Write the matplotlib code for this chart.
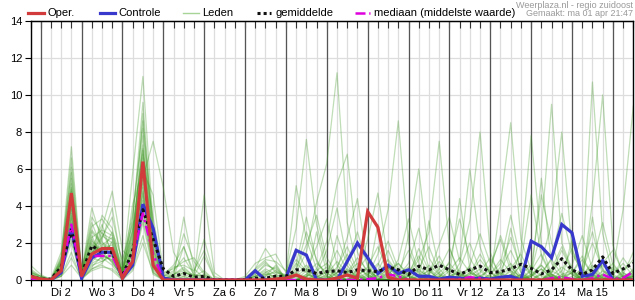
import numpy as np
import matplotlib
matplotlib.use('Agg')
import matplotlib.pyplot as plt

plt.rcParams['font.family'] = ['Liberation Sans', 'DejaVu Sans']

# 6-hourly steps, first step = ma 1 apr 18:00
day_labels = ['Di 2', 'Wo 3', 'Do 4', 'Vr 5', 'Za 6', 'Zo 7', 'Ma 8',
              'Di 9', 'Wo 10', 'Do 11', 'Vr 12', 'Za 13', 'Zo 14', 'Ma 15']

oper = [0.2, 0.05, 0, 0.5, 4.7, 0.2, 1.4, 1.7, 1.7, 0.1, 1.0, 6.4, 0.8, 0,
        0, 0, 0, 0, 0, 0, 0, 0, 0, 0, 0.05, 0.1, 0.27, 0.05, 0, 0,
        0.1, 0.27, 0.1, 3.7, 2.85, 0.15, 0, 0, 0, 0, 0, 0, 0, 0, 0,
        0, 0, 0, 0, 0, 0, 0, 0, 0, 0, 0, 0, 0, 0, 0]

controle = [0.15, 0, 0, 0.4, 2.8, 0.1, 1.2, 1.5, 1.5, 0.1, 0.8, 4.1, 2.8, 0.1,
            0, 0, 0, 0, 0, 0, 0, 0, 0.5, 0, 0, 0.1, 1.6, 1.35, 0, 0,
            0, 1.0, 2.0, 1.2, 0.35, 0.8, 0.35, 0.55, 0.2, 0.2, 0.05, 0.15, 0.1, 0.05, 0.1,
            0.05, 0.15, 0.2, 0, 2.1, 1.8, 1.2, 3.0, 2.55, 0.2, 0.3, 1.05, 0, 0, 0]

gemiddelde = [0.2, 0.05, 0.05, 0.7, 2.7, 0.3, 1.85, 1.5, 1.5, 0.2, 1.6, 3.8, 2.2, 0.6,
              0.2, 0.35, 0.15, 0.2, 0, 0, 0, 0, 0.1, 0.1, 0.2, 0.2, 0.55, 0.55, 0.35, 0.45,
              0.5, 0.4, 0.55, 0.5, 0.45, 0.7, 0.55, 0.3, 0.75, 0.55, 0.8, 0.55, 0.3, 0.55, 0.75,
              0.4, 0.45, 0.6, 0.85, 0.63, 0.33, 0.55, 1.15, 0.55, 0.3, 0.55, 1.25, 0.35, 0.6, 0.9]

mediaan = [0.1, 0, 0, 0.5, 3.0, 0.2, 1.3, 1.3, 1.3, 0.2, 1.2, 3.6, 1.4, 0,
           0, 0, 0, 0, 0, 0, 0, 0, 0, 0, 0, 0, 0, 0, 0, 0,
           0, 0, 0, 0.05, 0.1, 0.3, 0.2, 0, 0, 0, 0, 0, 0.05, 0.15, 0.1,
           0, 0, 0, 0, 0, 0, 0.1, 0.15, 0.05, 0, 0.1, 0.3, 0.05, 0.1, 0.45]

# ensemble members (Leden): steps 0-13
leden_begin = [
    [0.2, 0.1, 0, 0.6, 4.2, 0.2, 1.5, 1.8, 1.6, 0.1, 1.2, 6.0, 1.0, 0.1],
    [0.5, 0.2, 0, 1.0, 5.5, 0.3, 2.2, 1.3, 1.1, 0.3, 2.5, 7.3, 1.8, 0.0],
    [0.1, 0, 0, 0.4, 3.1, 0.1, 1.1, 2.4, 2.0, 0.2, 0.9, 4.5, 0.8, 0.0],
    [0.8, 0.3, 0, 1.3, 7.2, 0.5, 2.9, 3.3, 2.5, 0.5, 3.2, 9.6, 2.4, 0.2],
    [0, 0, 0, 0.3, 2.5, 0.1, 0.8, 1.0, 1.4, 0.1, 1.8, 5.2, 0.6, 0.0],
    [0.3, 0.1, 0, 0.9, 4.8, 0.4, 3.9, 2.1, 1.2, 0.6, 2.0, 6.6, 1.5, 0.1],
    [0.1, 0, 0, 0.5, 3.6, 0.2, 1.4, 2.8, 4.8, 1.6, 1.1, 4.0, 0.4, 0.0],
    [0.4, 0.1, 0, 0.7, 6.1, 0.6, 1.9, 1.6, 0.9, 0.2, 5.8, 11.0, 3.0, 0.3],
    [0, 0, 0, 0.2, 1.5, 0, 0.6, 0.9, 1.7, 0.3, 0.7, 3.1, 0.5, 0.0],
    [0.2, 0.1, 0, 1.1, 4.4, 0.3, 2.6, 1.9, 2.3, 0.4, 2.8, 7.0, 2.1, 0.1],
    [0.6, 0.2, 0.1, 1.5, 5.8, 0.2, 1.2, 3.5, 2.8, 0.2, 1.5, 5.5, 7.5, 5.0],
    [0.1, 0, 0, 0.3, 2.9, 0.1, 2.0, 1.4, 1.0, 0.1, 0.8, 3.6, 1.1, 0.0],
    [0.3, 0.1, 0, 0.8, 3.9, 0.2, 1.6, 2.3, 3.4, 0.9, 3.6, 8.2, 2.7, 0.2],
    [0, 0, 0, 0.6, 2.2, 0.1, 0.9, 1.2, 0.8, 0, 1.3, 4.8, 0.9, 0.0],
    [0.2, 0, 0, 0.4, 4.6, 0.4, 3.1, 1.7, 1.9, 0.5, 2.2, 6.3, 1.4, 0.1],
    [0.1, 0.1, 0, 0.9, 3.3, 0.2, 1.3, 2.6, 1.5, 0.2, 4.1, 5.9, 4.6, 0.4],
    [0.4, 0.2, 0, 1.2, 5.2, 0.3, 2.4, 1.1, 2.1, 0.3, 1.7, 9.0, 1.9, 0.1],
    [0, 0, 0, 0.2, 0.8, 0.1, 0.5, 0.7, 0.6, 0.1, 0.6, 2.4, 0.3, 0.0],
    [0.2, 0.1, 0, 0.7, 3.8, 0.2, 1.7, 3.0, 1.3, 0.4, 2.4, 6.8, 3.4, 0.2],
    [0.1, 0, 0, 0.5, 2.7, 0.1, 1.0, 1.5, 2.6, 1.1, 3.0, 4.3, 1.2, 0.0],
    [0.3, 0.1, 0, 0.6, 4.0, 0.5, 2.7, 2.0, 1.7, 0.2, 1.9, 7.8, 2.2, 0.1],
    [0.5, 0.1, 0, 1.0, 6.6, 0.3, 1.8, 1.4, 1.0, 0.1, 1.0, 5.0, 0.7, 0.0],
    [0, 0, 0, 0.3, 3.4, 0.1, 1.1, 2.2, 3.9, 0.6, 2.6, 5.7, 1.6, 0.1],
    [0.2, 0, 0, 0.8, 4.9, 0.2, 2.1, 1.6, 1.4, 0.3, 1.4, 6.1, 1.3, 0.0],
    [0.1, 0, 0, 0.4, 2.0, 0.1, 0.7, 1.3, 1.1, 0.1, 0.9, 3.3, 0.8, 0.0],
    [0.3, 0.1, 0, 0.9, 5.0, 0.4, 3.4, 2.5, 2.2, 0.4, 3.4, 8.6, 2.9, 0.2],
    [0.2, 0.1, 0, 0.5, 3.0, 0.2, 1.5, 1.9, 1.6, 0.2, 2.1, 4.7, 1.0, 0.0],
    [0.4, 0.2, 0, 1.1, 4.5, 0.3, 2.3, 2.7, 2.4, 0.7, 2.7, 7.1, 1.7, 0.1],
    [0.1, 0, 0, 0.6, 3.5, 0.2, 1.2, 1.0, 1.3, 0.2, 1.6, 5.4, 2.5, 0.1],
    [0, 0, 0, 0.2, 1.2, 0.1, 0.6, 0.8, 0.5, 0, 0.5, 2.0, 0.4, 0.0],
]

# steps 14-24
leden_midden = [
    [0, 0.2, 0, 0, 0, 0, 0, 0, 0, 0.1, 0],
    [0.3, 0.5, 0.1, 0, 0, 0, 0, 0, 0.2, 0.4, 0.1],
    [0, 0, 0, 0.2, 0, 0, 0, 0, 0, 0, 0.3],
    [0.5, 1.2, 0.3, 0.1, 0, 0, 0, 0.1, 0.5, 1.0, 0.4],
    [0, 0, 0, 0, 0, 0, 0, 0, 0, 0, 0],
    [0.2, 3.4, 0.6, 0.1, 0, 0, 0, 0, 0.3, 0.8, 0.6],
    [0, 0.1, 0, 0, 0, 0, 0, 0, 0, 0, 0.1],
    [0.8, 1.8, 0.4, 2.2, 0.2, 0, 0, 0, 0.6, 1.7, 0.9],
    [0, 0, 0, 0, 0, 0, 0, 0, 0, 0, 0],
    [0.1, 0.4, 0.2, 0.5, 0, 0, 0, 0, 0.1, 0.3, 0.2],
    [1.5, 0.5, 0.1, 0, 0, 0, 0, 0, 0, 0.2, 0.5],
    [0, 0, 0, 0, 0, 0, 0, 0, 0, 0, 0],
    [0.4, 2.5, 1.0, 0.3, 0, 0, 0, 0.2, 0.9, 1.2, 1.4],
    [0, 0, 0, 0, 0, 0, 0, 0, 0, 0, 0],
    [0.1, 0.3, 0.1, 4.6, 0.4, 0, 0, 0, 0.2, 0.6, 0.3],
    [0.6, 1.0, 1.2, 0.4, 0, 0, 0, 0, 0.4, 0.2, 0.8],
    [0, 0.1, 0, 0, 0, 0, 0, 0, 0, 0, 0],
    [0, 0, 0, 0, 0, 0, 0, 0, 0, 0, 0],
    [0.3, 0.7, 0.2, 1.3, 0.1, 0, 0, 0, 0.3, 0.9, 0.5],
    [0, 0, 0, 0, 0, 0, 0, 0, 0, 0, 0.2],
    [0.2, 0.4, 0.3, 0.2, 0, 0, 0, 0, 0, 0.4, 0.7],
    [0, 0, 0, 0, 0, 0, 0, 0, 0, 0, 0],
    [0.1, 1.8, 0.2, 0, 0, 0, 0, 0, 0.2, 0.5, 0.1],
    [0, 0, 0, 0, 0, 0, 0, 0, 0, 0.1, 0],
    [0, 0, 0, 0, 0, 0, 0, 0, 0, 0, 0],
    [0.7, 0.8, 0.5, 1.6, 0.1, 0, 0, 0.1, 0.6, 1.1, 1.0],
    [0, 0.2, 0, 0, 0, 0, 0, 0, 0, 0, 0],
    [0.3, 0.6, 0.2, 0.3, 0, 0, 0, 0, 0.2, 0.3, 0.4],
    [0.1, 0, 0, 0, 0, 0, 0, 0, 0, 0, 0],
    [0, 0, 0, 0, 0, 0, 0, 0, 0, 0, 0],
]

# steps 25-59 (ma 8 00:00 .. di 16 12:00)
leden_eind = [
    [0, 0.3, 0.8, 0.2, 0, 0, 0.4, 1.2, 0.5, 0, 0, 0.2, 0, 0.6, 1.8, 0.4, 0, 0.9, 3.2, 8.0, 1.5, 0, 0, 0.3, 0.8, 0.2, 0, 0, 0.4, 1.1, 0.3, 0, 0, 0.2, 0.5],
    [0.1, 0.6, 1.9, 3.5, 1.2, 0.3, 0, 0, 0.2, 1.4, 3.8, 8.6, 2.0, 0.4, 0, 0, 0.2, 0.5, 0.1, 0, 0, 0.3, 0.9, 0.2, 0, 0, 0.6, 1.8, 0.5, 0, 0, 0.2, 0.7, 0.1, 0],
    [0, 0, 0.2, 0.5, 0.9, 0.3, 0, 0, 0, 0, 0.4, 0.1, 0, 0, 0.3, 1.0, 0.4, 0, 0, 0.2, 0.6, 2.4, 0.8, 0, 0, 0.3, 1.2, 3.6, 1.4, 0.5, 10.7, 2.5, 0.3, 0, 0.2],
    [0.3, 5.1, 2.2, 0.6, 0.1, 0, 0, 0.5, 1.3, 0.4, 0, 0, 0.2, 1.7, 0.5, 0, 0, 0, 0.3, 1.4, 0.4, 0, 0, 0, 0.2, 0.6, 0.1, 0, 0, 0.3, 0.8, 0.2, 0, 0.5, 1.1],
    [0, 0, 0, 0.4, 1.6, 3.9, 1.0, 0.2, 0, 0, 0.3, 0.9, 0.2, 0, 0, 0, 0.5, 1.2, 0.4, 0, 0, 0, 0.2, 1.5, 7.8, 1.9, 0.3, 0, 0, 0.2, 0.7, 0.1, 0, 0, 0.3],
    [0.2, 0.9, 0.4, 0, 0, 0.6, 2.3, 4.4, 0.8, 0, 0, 0, 0.3, 1.1, 2.6, 7.5, 1.8, 0.2, 0, 0, 0, 0.4, 0.1, 0, 0, 0, 0.5, 0.2, 0, 0, 0.3, 0.9, 1.6, 0.4, 0],
    [0, 0, 0.1, 0, 0, 0, 0.5, 0.2, 0, 0.3, 1.1, 0.4, 0, 0, 0, 0.2, 0.6, 0.1, 0, 0, 0.8, 2.2, 0.5, 0, 0, 0, 0.3, 0.1, 0.4, 1.3, 0.2, 0, 0.5, 3.8, 9.4],
    [0, 0.4, 1.5, 4.2, 6.3, 11.2, 3.1, 0.7, 0.2, 0, 0, 0.5, 1.6, 0.3, 0, 0, 0, 0, 0.4, 0.1, 0, 0, 0.2, 0.8, 0.3, 0, 0, 0, 0.2, 0.6, 0.1, 0, 0, 0.2, 0.4],
    [0.1, 0.2, 0, 0, 0.3, 1.0, 0.4, 0, 0, 0.8, 2.1, 0.6, 0, 0, 0.4, 1.3, 0.2, 0, 0, 0, 0.3, 0.9, 3.5, 1.0, 0.4, 2.7, 9.5, 2.0, 0.6, 0, 0, 0.3, 0.1, 0, 0],
    [0, 0, 0.3, 0.9, 0.4, 0, 0, 0.2, 0.7, 1.8, 0.5, 0, 2.4, 6.0, 1.2, 0.3, 0, 0, 0.2, 0.6, 0.1, 0, 0, 0, 0.5, 1.4, 0.3, 0, 0, 0.2, 1.0, 3.1, 0.8, 0.2, 0],
    [0.2, 0, 0, 0.1, 0.5, 0.2, 0, 0, 0, 0.2, 0.6, 0.2, 0.9, 2.8, 0.6, 0, 0, 0.3, 0.1, 0, 0, 0.5, 1.6, 0.4, 0, 0, 0.2, 0.7, 0.3, 0, 4.2, 10.0, 1.9, 0.3, 0],
    [0, 0.5, 2.6, 1.1, 0.2, 0, 0, 0.3, 0.6, 0.1, 0, 0, 0, 0.2, 0.5, 0.1, 1.0, 3.3, 1.2, 0.2, 0, 4.1, 8.5, 2.2, 0.5, 0, 0, 0.2, 0, 0, 0.4, 0.1, 0, 0, 0.6],
    [0.4, 2.8, 7.6, 3.0, 0.8, 0.2, 0, 0, 0.3, 0.9, 0.2, 0, 0, 0, 0.6, 0.2, 0, 0, 0, 0.4, 1.2, 0.3, 0, 0, 0, 0.4, 1.1, 0.3, 0, 0, 0.2, 0, 0.3, 0.9, 0.2],
    [0, 0, 0.2, 0.6, 2.1, 5.2, 6.8, 1.5, 0.3, 0, 0, 0.1, 0.5, 0.2, 0, 0, 0, 0.6, 2.0, 0.5, 0, 0, 0.3, 0.1, 0, 0, 0, 0.5, 1.7, 0.4, 0, 0, 0, 0, 0.2],
    [0.1, 0.3, 0.1, 0, 0, 0.4, 1.4, 0.3, 0, 0, 0, 0.6, 0.2, 0, 0.3, 1.9, 3.4, 1.0, 6.0, 1.8, 0.2, 0, 0, 0, 0.3, 0.8, 0.1, 0, 0, 0.5, 2.0, 0.6, 0, 0, 0.1],
    [0, 0, 0, 0.3, 0.7, 0.1, 0, 0, 0, 0.5, 1.6, 0.4, 0, 0, 0.2, 0, 0, 0.2, 0.7, 0.2, 0, 0, 0.6, 1.4, 0.2, 0.9, 3.1, 8.0, 1.6, 0.3, 0, 0, 0, 0.4, 0.1],
    [0.2, 1.1, 0.5, 0, 0, 0, 0.4, 0.9, 0.2, 0, 0, 0, 0.4, 1.3, 0.3, 0, 0, 0, 0, 0.2, 0.5, 0, 0, 0, 0.6, 4.6, 2.0, 0.4, 0, 0, 0.2, 0.8, 0.2, 0, 0.3],
    [0, 0, 0.5, 1.8, 3.3, 0.8, 0.2, 0, 0, 0, 0.7, 0.2, 0, 0.3, 0, 0, 0, 0.2, 0.5, 0.1, 0, 0, 0, 0.3, 0, 0, 0.2, 0, 0, 0.7, 2.6, 0.5, 0, 0, 0],
    [0.1, 0, 0, 0, 0, 0.2, 0.6, 0.2, 2.2, 4.7, 1.0, 0.3, 0, 0, 0, 0.4, 0.9, 0.2, 0, 0, 0, 0.2, 0.7, 0.1, 0, 0, 0, 0.3, 0.5, 0.1, 0, 0, 0.2, 1.2, 0.4],
    [0, 0.2, 0.6, 0.2, 0, 0, 0, 0.1, 0.4, 0.2, 0, 0, 0, 0.5, 0.2, 0, 0, 0, 0.3, 1.1, 0.4, 0, 0, 0.9, 4.6, 1.3, 0.2, 0, 0, 0, 0.3, 0.1, 0, 0.2, 0],
    [0, 0, 0.3, 0.1, 0, 0.7, 1.8, 0.5, 0, 0, 0.2, 1.1, 3.3, 0.9, 0, 0, 0.2, 0.4, 0, 0, 0, 0, 0.5, 0.2, 0, 0.3, 0, 0, 0.8, 2.4, 0.6, 0, 0, 0, 0.4],
    [0.3, 0.1, 0, 0, 0.2, 0, 0, 0.6, 0.3, 0, 0, 0, 0, 0.2, 0.8, 0.3, 0, 0, 0.2, 0, 0.3, 1.1, 0.4, 0, 0, 0, 0.4, 1.6, 0.5, 0, 0, 0.3, 0.9, 0.2, 0],
    [0, 0.8, 3.4, 1.0, 0.2, 0, 0.3, 0, 0, 0.5, 0.1, 0, 0, 0, 0, 0.6, 1.7, 0.4, 0, 0, 0, 0, 0.3, 0, 0.2, 0.8, 0.2, 0, 0, 0.3, 0, 0.5, 0.2, 0, 0],
    [0, 0, 0, 0.2, 0.4, 1.6, 0.5, 0, 0, 0.1, 0, 0.3, 0.7, 0.2, 0, 0, 0, 0, 0.4, 0.2, 0, 0.7, 2.3, 0.6, 0, 0, 0, 0.2, 0.4, 0, 0.1, 0, 0, 0.3, 1.5],
    [0.1, 0, 0, 0, 0, 2.4, 0.8, 0, 0, 0, 0, 0.1, 0, 0, 3.2, 0.6, 0, 0, 0, 0, 0.2, 0, 2.8, 0.4, 0, 0.1, 0, 0, 0, 0, 0.2, 0, 0, 0, 0],
    [0.5, 1.7, 0.6, 0.2, 0, 0.4, 0.9, 2.6, 0.7, 0, 0, 0, 0.2, 0.6, 0.1, 0, 0, 0, 0.8, 2.5, 0.9, 0, 0, 0, 0.3, 0, 0.4, 1.2, 0.3, 0, 0, 0, 0.6, 0.2, 0],
    [0, 0, 0.2, 0.3, 0.1, 0, 0, 0, 0, 0.3, 0.7, 0.2, 0, 0, 0.1, 0, 0, 0.3, 0, 0, 0, 0, 0, 0.2, 0, 0, 0.3, 0, 0, 0.2, 0.5, 0.1, 0, 0, 0.2],
    [0.2, 0.4, 0.1, 0, 0, 0, 0.3, 0.2, 0, 0, 0.5, 0.9, 0.3, 0, 0, 0.2, 0, 0, 0, 0, 0, 0.4, 0, 0, 0.2, 0.6, 0.1, 0, 0, 0, 0.3, 0, 0, 0, 0.2],
    [0, 0, 0, 0, 0, 0, 0.1, 0, 0, 3.0, 0.5, 0, 0.2, 0, 0, 0, 0, 0.1, 0, 0, 0, 0, 0, 0, 0.1, 5.5, 0.9, 0, 0, 0, 3.4, 0.1, 0, 0, 0],
    [0, 0.2, 0, 2.6, 0.4, 0, 0, 0.3, 0.1, 0, 0, 0, 0, 0, 0, 0, 0.2, 4.4, 0.6, 0, 0, 0, 0.2, 0, 0, 0, 0, 0, 2.2, 0.3, 0, 0, 0, 0, 0],
]

for row in leden_eind:
    assert len(row) == 35, len(row)

leden = [a + b + c for a, b, c in zip(leden_begin, leden_midden, leden_eind)]
x = np.arange(len(oper))

W, H = 635, 300
fig = plt.figure(figsize=(W / 100, H / 100), dpi=100)
ax = fig.add_axes([30.5 / W, 20 / H, (633.3 - 30.5) / W, 259 / H])

# grid: every 6 h light, day boundaries dark
for i in x:
    ax.axvline(i, color='#dddddd', lw=0.9, zorder=0)
for yv in range(2, 14, 2):
    ax.axhline(yv, color='#dddddd', lw=0.9, zorder=0)
for d in range(1, len(x), 4):
    ax.axvline(d, color='#555555', lw=0.9, zorder=1)

for m in leden:
    ax.plot(x, m, color='#3f9a24', alpha=0.33, lw=0.9, zorder=2)

ax.plot(x, controle, color='#3838cc', lw=2.3, zorder=4, solid_joinstyle='miter')
ax.plot(x, gemiddelde, color='#111111', lw=2.2, ls=(0, (1, 1)), zorder=5)
ax.plot(x, mediaan, color='#dd00dd', lw=1.8, ls=(0, (4, 1.5, 1, 1.5)), zorder=5)
ax.plot(x, oper, color='#d23b3b', lw=2.3, zorder=6, solid_joinstyle='miter')

ax.set_xlim(0, 58.85)
ax.set_ylim(0, 14)
xlabels = [''] * len(x)
for k, lab in enumerate(day_labels):
    xlabels[3 + 4 * k] = lab
ax.set_xticks(x, labels=xlabels)
ax.set_yticks(range(0, 15, 2))
ax.tick_params(axis='both', length=4, width=0.8, color='black', labelsize=8, pad=2)
for s in ax.spines.values():
    s.set_color('black')
    s.set_linewidth(1)

top = ax.secondary_xaxis('top')
top.set_xticks(x, labels=[''] * len(x))
top.tick_params(direction='in', length=5, width=0.8, color='#333333')

# legend in pixel coordinates
ov = fig.add_axes([0, 0, 1, 1], zorder=10)
ov.set_xlim(0, W)
ov.set_ylim(H, 0)
ov.axis('off')
ly = 13.3
ov.plot([28, 43.5], [ly, ly], color='#d23b3b', lw=2.3)
ov.text(47, ly, 'Oper.', fontsize=8, va='center')
ov.plot([99.5, 115], [ly, ly], color='#3838cc', lw=2.3)
ov.text(118, ly, 'Controle', fontsize=8, va='center')
ov.plot([183, 199], [ly, ly], color='#a8d498', lw=1)
ov.text(202, ly, 'Leden', fontsize=8, va='center')
ov.plot([257, 271], [ly, ly], color='#111111', lw=2.2, ls=(0, (1, 1)))
ov.text(276, ly, 'gemiddelde', fontsize=8, va='center')
ov.plot([355, 370], [ly, ly], color='#dd00dd', lw=1.8, ls=(0, (4, 1.5, 1, 1.5)))
ov.text(374.5, ly, 'mediaan (middelste waarde)', fontsize=8, va='center')
ov.text(633, 5, 'Weerplaza.nl - regio zuidoost', fontsize=6.5, color='#999999',
        ha='right', va='center')
ov.text(633, 14, 'Gemaakt: ma 01 apr 21:47', fontsize=6.5, color='#999999',
        ha='right', va='center')

fig.savefig('out.png', dpi=100)
